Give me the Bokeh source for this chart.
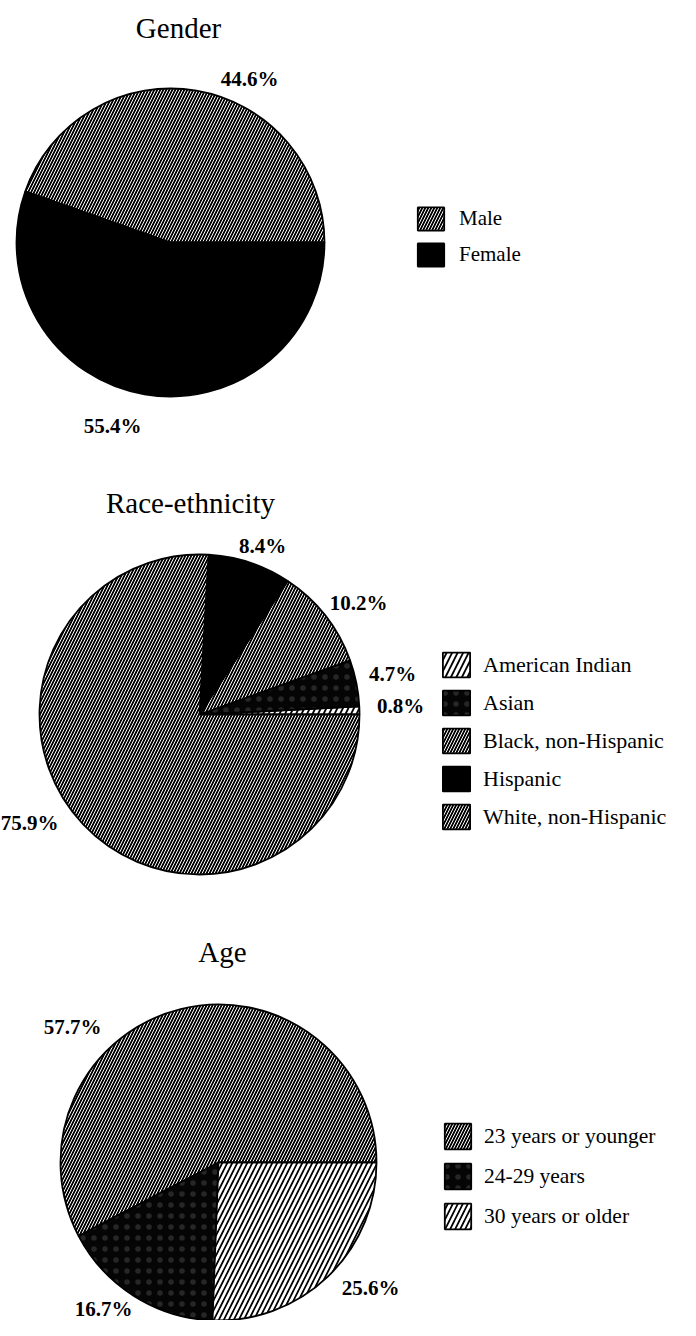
from bokeh.plotting import figure
from bokeh.models import Range1d, Legend, LegendItem, ColumnDataSource, Label
from bokeh.core.properties import value
from bokeh.embed import file_html
from bokeh.resources import INLINE
import math

# ---------------- data ----------------
gender_labels = ["Male", "Female"]
gender_values = [44.6, 55.4]

race_labels = ["American Indian", "Asian", "Black, non-Hispanic", "Hispanic", "White, non-Hispanic"]
race_values = [0.8, 4.7, 10.2, 8.4, 75.9]

age_labels = ["23 years or younger", "24-29 years", "30 years or older"]
age_values = [57.7, 16.7, 25.6]

# ---------------- styles ----------------
DENSE = dict(fill="#000000", hatch="/", scale=6.0, weight=1.0, hcolor="white")
SOLID = dict(fill="black", hatch=" ", scale=6.0, weight=1.0, hcolor="black")
SPECK = dict(fill="#050505", hatch=".", scale=11.0, weight=0.4, hcolor="#262626")
SPARSE = dict(fill="white", hatch="/", scale=10.0, weight=1.7, hcolor="black")
WIDE = dict(fill="white", hatch="/", scale=11.0, weight=1.8, hcolor="black")

gender_styles = [DENSE, SOLID]
race_styles = [WIDE, SPECK, DENSE, SOLID, DENSE]
age_styles = [DENSE, SPECK, SPARSE]

W, H = 680, 1320
SERIF = "Liberation Serif"


def sx(X):
    return X - 8


def sy(Y):
    return 1328 - Y


p = figure(width=W, height=H, output_backend="svg", toolbar_location=None,
           x_range=Range1d(0, W), y_range=Range1d(0, H), min_border=0)
p.axis.visible = False
p.grid.visible = False
p.outline_line_color = None
p.background_fill_color = "white"
p.border_fill_color = "white"

pies = [
    dict(title="Gender", labels=gender_labels, values=gender_values, styles=gender_styles,
         cx=178, cy=250, r=154, title_pos=(186, 35), title_size="29px",
         label_pos=[(257, 86), (120, 433)], label_size="21px",
         legend_pos=(422, 212), pitch=36, box=(33, 29), legend_size="21px", standoff=12),
    dict(title="Race-ethnicity", labels=race_labels, values=race_values, styles=race_styles,
         cx=207, cy=722, r=160, title_pos=(198, 510), title_size="29px",
         label_pos=[(408, 713), (400, 681), (366, 610), (270, 553), (37, 830)], label_size="21px",
         legend_pos=(447, 657), pitch=38, box=(34, 31), legend_size="22px", standoff=10),
    dict(title="Age", labels=age_labels, values=age_values, styles=age_styles,
         cx=226, cy=1170, r=158, title_pos=(230, 959), title_size="29px",
         label_pos=[(80, 1034), (111, 1316), (378, 1295)], label_size="21px",
         legend_pos=(449, 1128), pitch=40, box=(33, 32), legend_size="21.5px", standoff=10),
]

for pie in pies:
    vals = pie["values"]
    total = sum(vals)
    starts, ends = [], []
    acc = 0.0
    for v in vals:
        starts.append(2 * math.pi * acc / total)
        acc += v
        ends.append(2 * math.pi * acc / total)
    n = len(vals)
    src = ColumnDataSource(dict(
        x=[sx(pie["cx"])] * n, y=[sy(pie["cy"])] * n,
        start=starts, end=ends,
        fill=[s["fill"] for s in pie["styles"]],
        hatch=[s["hatch"] for s in pie["styles"]],
        hscale=[s["scale"] for s in pie["styles"]],
        hweight=[s["weight"] for s in pie["styles"]],
        hcolor=[s["hcolor"] for s in pie["styles"]],
        name=pie["labels"],
    ))
    r = p.wedge(x="x", y="y", radius=pie["r"], radius_units="screen",
                start_angle="start", end_angle="end", source=src,
                fill_color="fill", hatch_pattern="hatch", hatch_scale="hscale",
                hatch_weight="hweight", hatch_color="hcolor",
                line_color="black", line_width=1.8)

    # percentage labels
    lab_src = ColumnDataSource(dict(
        x=[sx(a) for a, b in pie["label_pos"]],
        y=[sy(b) for a, b in pie["label_pos"]],
        t=[f"{v:.1f}%" for v in vals]))
    p.text(x="x", y="y", text="t", source=lab_src, text_align="center",
           text_baseline="middle", text_font=value(SERIF), text_font_style="bold",
           text_font_size=pie["label_size"], text_color="black")

    # title (position = baseline centre)
    tx, ty = pie["title_pos"]
    p.add_layout(Label(x=sx(tx), y=sy(ty), text=pie["title"], text_align="center",
                       text_baseline="alphabetic", text_font=SERIF,
                       text_font_size=pie["title_size"], text_color="black"))

    # legend (location tuple = bottom-left corner of the legend box)
    lx, ly = pie["legend_pos"]
    bw, bh = pie["box"]
    spacing = pie["pitch"] - bh
    leg_h = n * bh + (n - 1) * spacing
    items = [LegendItem(label=lab, renderers=[r], index=i) for i, lab in enumerate(pie["labels"])]
    leg = Legend(items=items, location=(sx(lx), sy(ly + leg_h)), orientation="vertical",
                 glyph_width=bw, glyph_height=bh, label_height=bh,
                 spacing=spacing, padding=0, margin=0,
                 label_standoff=pie["standoff"], border_line_color=None, background_fill_alpha=0,
                 label_text_font=SERIF, label_text_font_size=pie["legend_size"],
                 label_text_color="black", label_text_baseline="middle")
    p.add_layout(leg, "center")

open("out.html", "w").write(file_html(p, INLINE))
